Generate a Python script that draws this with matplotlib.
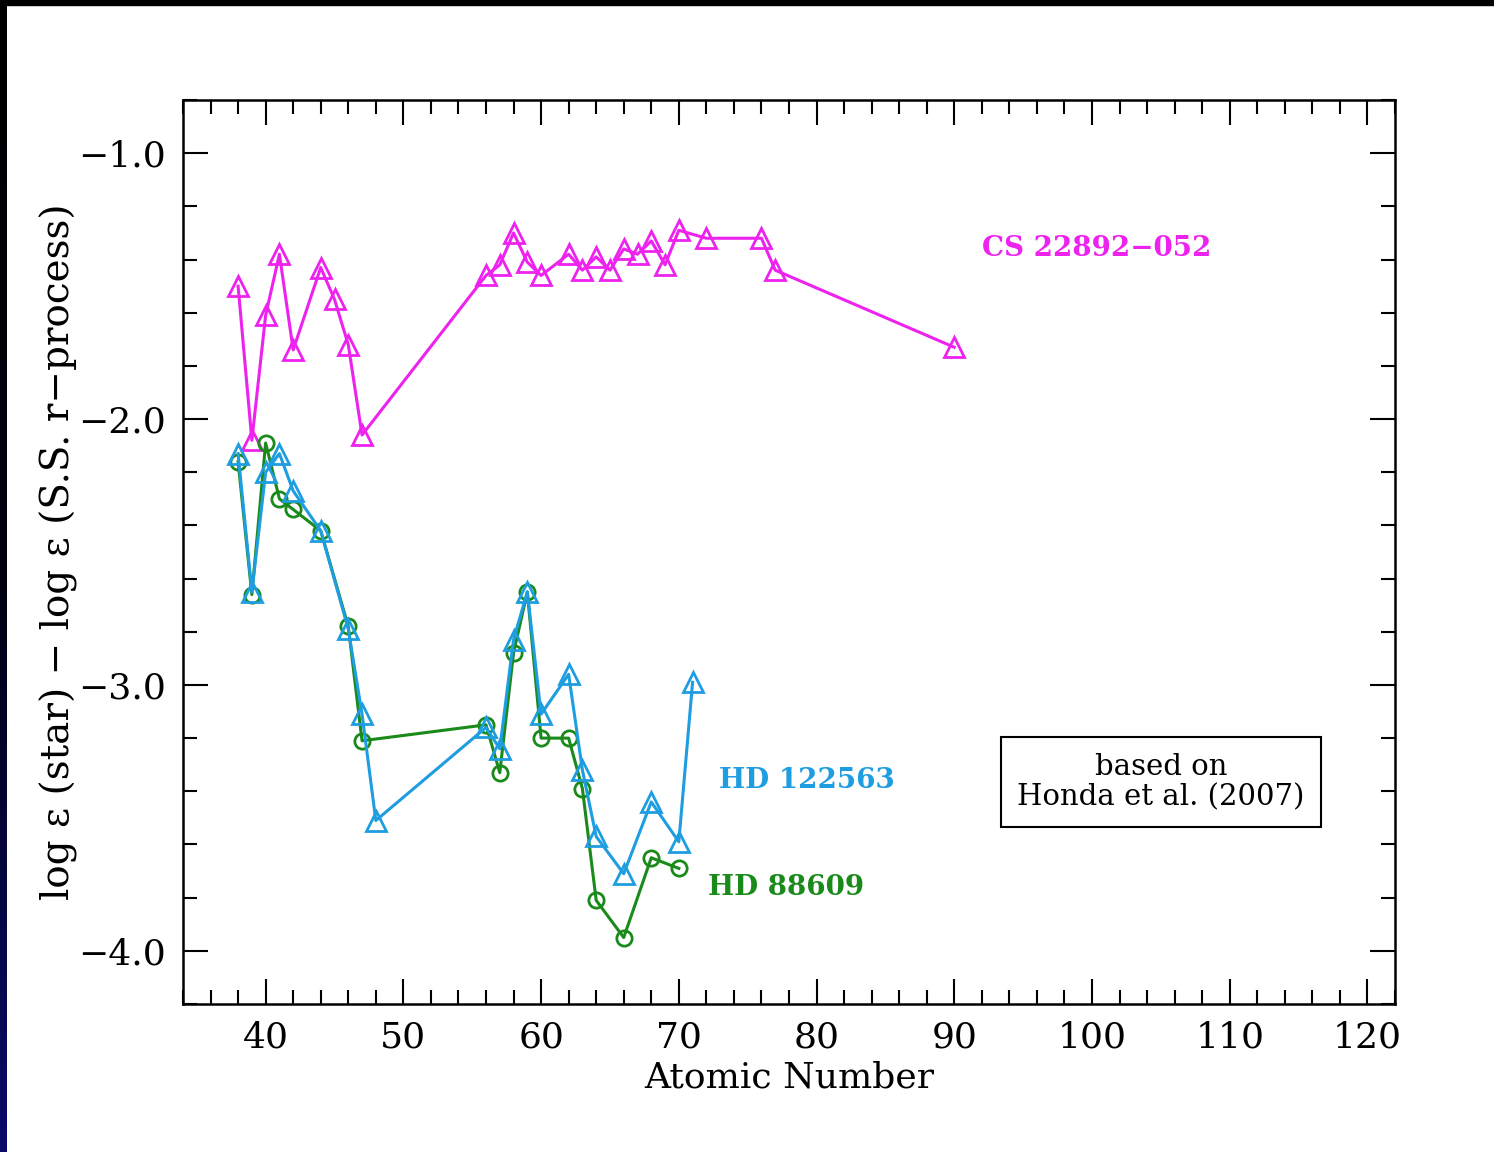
import matplotlib
matplotlib.use("Agg")
import matplotlib.pyplot as plt
import numpy as np
from matplotlib.ticker import MultipleLocator, FuncFormatter

# CS 22892-052
cs_z = [38, 39, 40, 41, 42, 44, 45, 46, 47, 56, 57, 58, 59, 60, 62, 63, 64, 65, 66, 67, 68, 69, 70, 72, 76, 77, 90]
cs_v = [-1.50, -2.08, -1.61, -1.38, -1.74, -1.43, -1.55, -1.72, -2.06, -1.46, -1.42, -1.30, -1.41,
        -1.46, -1.38, -1.44, -1.39, -1.44, -1.36, -1.38, -1.33, -1.42, -1.29, -1.32, -1.32, -1.44, -1.73]

# HD 122563
hd1_z = [38, 39, 40, 41, 42, 44, 46, 47, 48, 56, 57, 58, 59, 60, 62, 63, 64, 66, 68, 70, 71]
hd1_v = [-2.13, -2.65, -2.20, -2.13, -2.27, -2.42, -2.79, -3.11, -3.51, -3.16, -3.24, -2.83, -2.65,
         -3.11, -2.96, -3.32, -3.57, -3.71, -3.44, -3.59, -2.99]

# HD 88609
hd2_z = [38, 39, 40, 41, 42, 44, 46, 47, 56, 57, 58, 59, 60, 62, 63, 64, 66, 68, 70]
hd2_v = [-2.16, -2.66, -2.09, -2.30, -2.34, -2.42, -2.78, -3.21, -3.15, -3.33, -2.88, -2.65,
         -3.20, -3.20, -3.39, -3.81, -3.95, -3.65, -3.69]

magenta = '#ee22ee'
cyan = '#1e9de0'
green = '#1a8a1a'

plt.rcParams['font.family'] = ['DejaVu Serif']

fig = plt.figure(figsize=(14.94, 11.52), dpi=100)
fig.patch.set_facecolor('white')

# dark frame on top and left edge
fig.patches.append(plt.Rectangle((0, 1 - 5 / 1152), 1, 5 / 1152, transform=fig.transFigure,
                                 color='black', zorder=0))
grad = np.linspace(0, 1, 256).reshape(-1, 1)
eax = fig.add_axes([0, 0, 7 / 1494, 1])
eax.imshow(grad, aspect='auto', cmap=matplotlib.colors.LinearSegmentedColormap.from_list(
    'edge', ['#0a0a6a', '#000010', '#000000']), origin='lower')
eax.axis('off')

ax = fig.add_axes([183 / 1494, 1 - 1004 / 1152, (1395 - 183) / 1494, (1004 - 100) / 1152])

lw = 2.2
ax.plot(cs_z, cs_v, color=magenta, lw=lw, marker='^', ms=14, mfc='none', mew=2)
ax.plot(hd2_z, hd2_v, color=green, lw=lw, marker='o', ms=11, mfc='none', mew=2)
ax.plot(hd1_z, hd1_v, color=cyan, lw=lw, marker='^', ms=14, mfc='none', mew=2)

ax.set_xlim(34, 122)
ax.set_ylim(-4.2, -0.8)
ax.xaxis.set_major_locator(MultipleLocator(10))
ax.xaxis.set_minor_locator(MultipleLocator(2))
ax.yaxis.set_major_locator(MultipleLocator(1.0))
ax.yaxis.set_minor_locator(MultipleLocator(0.2))
ax.yaxis.set_major_formatter(FuncFormatter(lambda v, p: ('%.1f' % v).replace('-', '\u2212')))
ax.tick_params(which='both', direction='in', top=True, right=True, width=1.5, labelsize=26, pad=12)
ax.tick_params(which='major', length=18)
ax.tick_params(which='minor', length=10)
for s in ax.spines.values():
    s.set_linewidth(1.8)

ax.set_xlabel('Atomic Number', fontsize=26, labelpad=4)
ax.set_ylabel('log \u03b5 (star) \u2212 log \u03b5 (S.S. r\u2212process)', fontsize=28, labelpad=0)

ax.text(92.0, -1.36, 'CS 22892\u2212052', color=magenta, fontsize=20, fontweight='bold', va='center')
ax.text(72.9, -3.36, 'HD 122563', color=cyan, fontsize=20, fontweight='bold', va='center')
ax.text(72.1, -3.76, 'HD 88609', color=green, fontsize=20, fontweight='bold', va='center')

ax.text(105.0, -3.365, 'based on\nHonda et al. (2007)', fontsize=21, ha='center', va='center',
        linespacing=1.1,
        bbox=dict(boxstyle='square,pad=0.55', facecolor='white', edgecolor='black', lw=1.5))

fig.savefig('out.png', dpi=100)
